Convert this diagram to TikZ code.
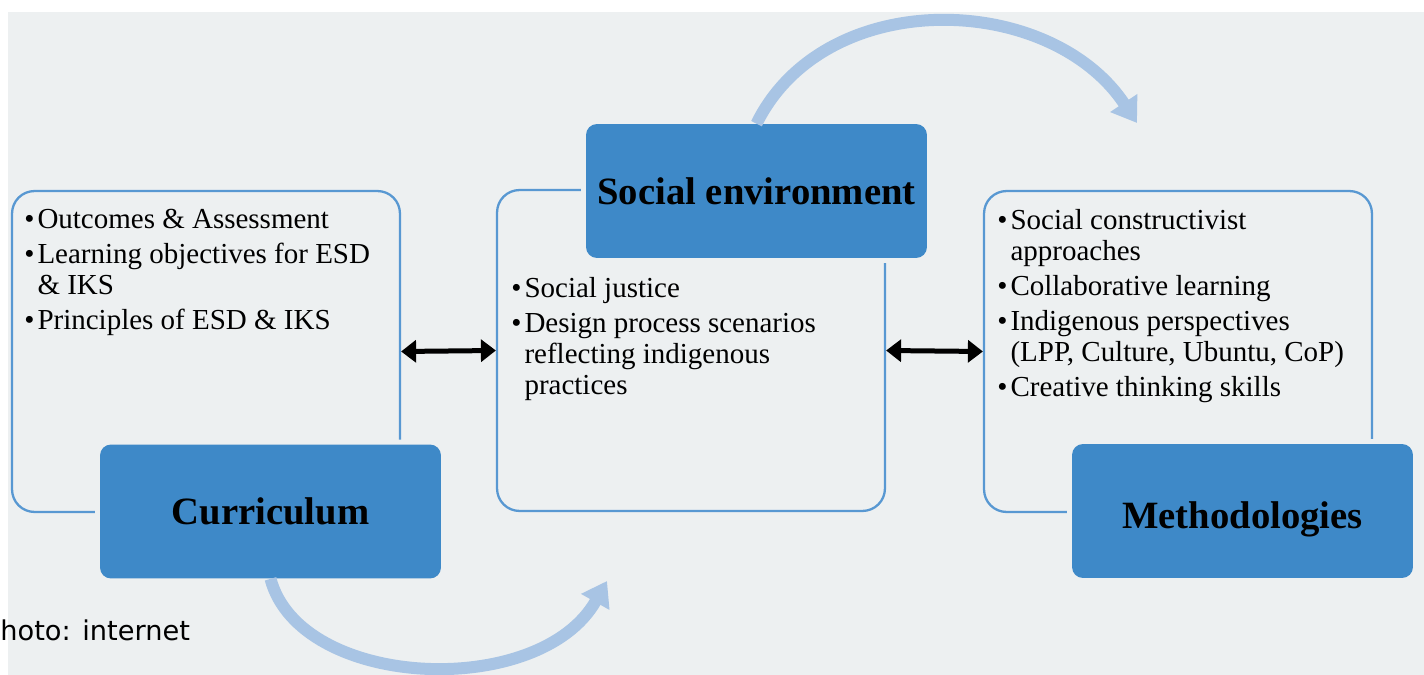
\documentclass[tikz,border=0pt]{standalone}
\usepackage{fontspec}
\setmainfont{Liberation Serif}
\newfontfamily\creditfont{DejaVu Sans}
\usetikzlibrary{arrows.meta}

\definecolor{bggrey}{RGB}{237,240,241}
\definecolor{frameblue}{RGB}{88,152,210}
\definecolor{headblue}{RGB}{62,137,200}
\definecolor{loopblue}{RGB}{168,196,228}

\newcommand{\bl}{\makebox[7.5pt][l]{\textbullet}}
\newcommand{\ind}{\hspace*{7.5pt}}

\begin{document}
\begin{tikzpicture}[x=0.02cm,y=-0.02cm,
	frame/.style={draw=frameblue,line width=1.3pt,rounded corners=0.45cm,
		minimum width=7.76cm,minimum height=6.42cm,inner sep=0pt},
	headbox/.style={fill=headblue,rounded corners=0.22cm,
		preaction={draw=bggrey,line width=0.2cm},
		minimum width=6.82cm,minimum height=2.68cm,inner sep=0pt,
		font=\fontsize{22}{24}\selectfont\bfseries},
	items/.style={anchor=north west,align=left,inner sep=0pt,
		font=\fontsize{16.5}{17.6}\selectfont},
	link/.style={{Triangle[length=0.3cm,width=0.44cm]}-{Triangle[length=0.3cm,width=0.44cm]},
		line width=0.1cm,black},
	cycle arrow/.style={-{Triangle[length=0.48cm,width=0.62cm]},line width=0.24cm,loopblue}]
	\useasboundingbox[fill=white] (0,0) rectangle (1424,675);
	\fill[bggrey] (8,12) rectangle (1424,675);

	% outline frames
	\node[frame] (curframe) at (206,351.5) {};
	\node[frame] (socframe) at (691,350.5) {};
	\node[frame] (metframe) at (1178,351.5) {};

	% heading boxes
	\node[headbox] (cur) at (270.5,511.5) {Curriculum};
	\node[headbox] (soc) at (756.5,191) {Social environment};
	\node[headbox] (met) at (1242.5,511) {\raisebox{-0.36cm}[0pt][0pt]{Methodologies}};

	% contents
	\node[items] (curtext) at (24,209) {\bl Outcomes \& Assessment\\[2.3pt]
		\bl Learning objectives for ESD\\ \ind\& IKS\\[2.3pt]
		\bl Principles of ESD \& IKS};
	\node[items] (soctext) at (511,277) {\bl Social justice\\[2.3pt]
		\bl Design process scenarios\\ \ind reflecting indigenous\\ \ind practices};
	\node[items] (mettext) at (997,209) {\bl Social constructivist\\ \ind approaches\\[2.3pt]
		\bl Collaborative learning\\[2.3pt]
		\bl Indigenous perspectives\\ \ind(LPP, Culture, Ubuntu, CoP)\\[2.3pt]
		\bl Creative thinking skills};

	% links between frames
	\draw[link] (curframe.east) -- (socframe.west);
	\draw[link] (socframe.east) -- (metframe.west);

	% cycle arrows
	\coordinate (tipA) at (1137,123);
	\coordinate (tipB) at (607,581);
	\draw[cycle arrow] (soc.north) .. controls (825,-15) and (1050,-8) .. (tipA);
	\draw[cycle arrow] (cur.south) .. controls (300,690) and (540,700) .. (tipB);

	\node[anchor=base west,inner sep=0pt,font=\creditfont\fontsize{15.5}{17}\selectfont] (credit) at (0,640) {hoto: internet};
\end{tikzpicture}
\end{document}
